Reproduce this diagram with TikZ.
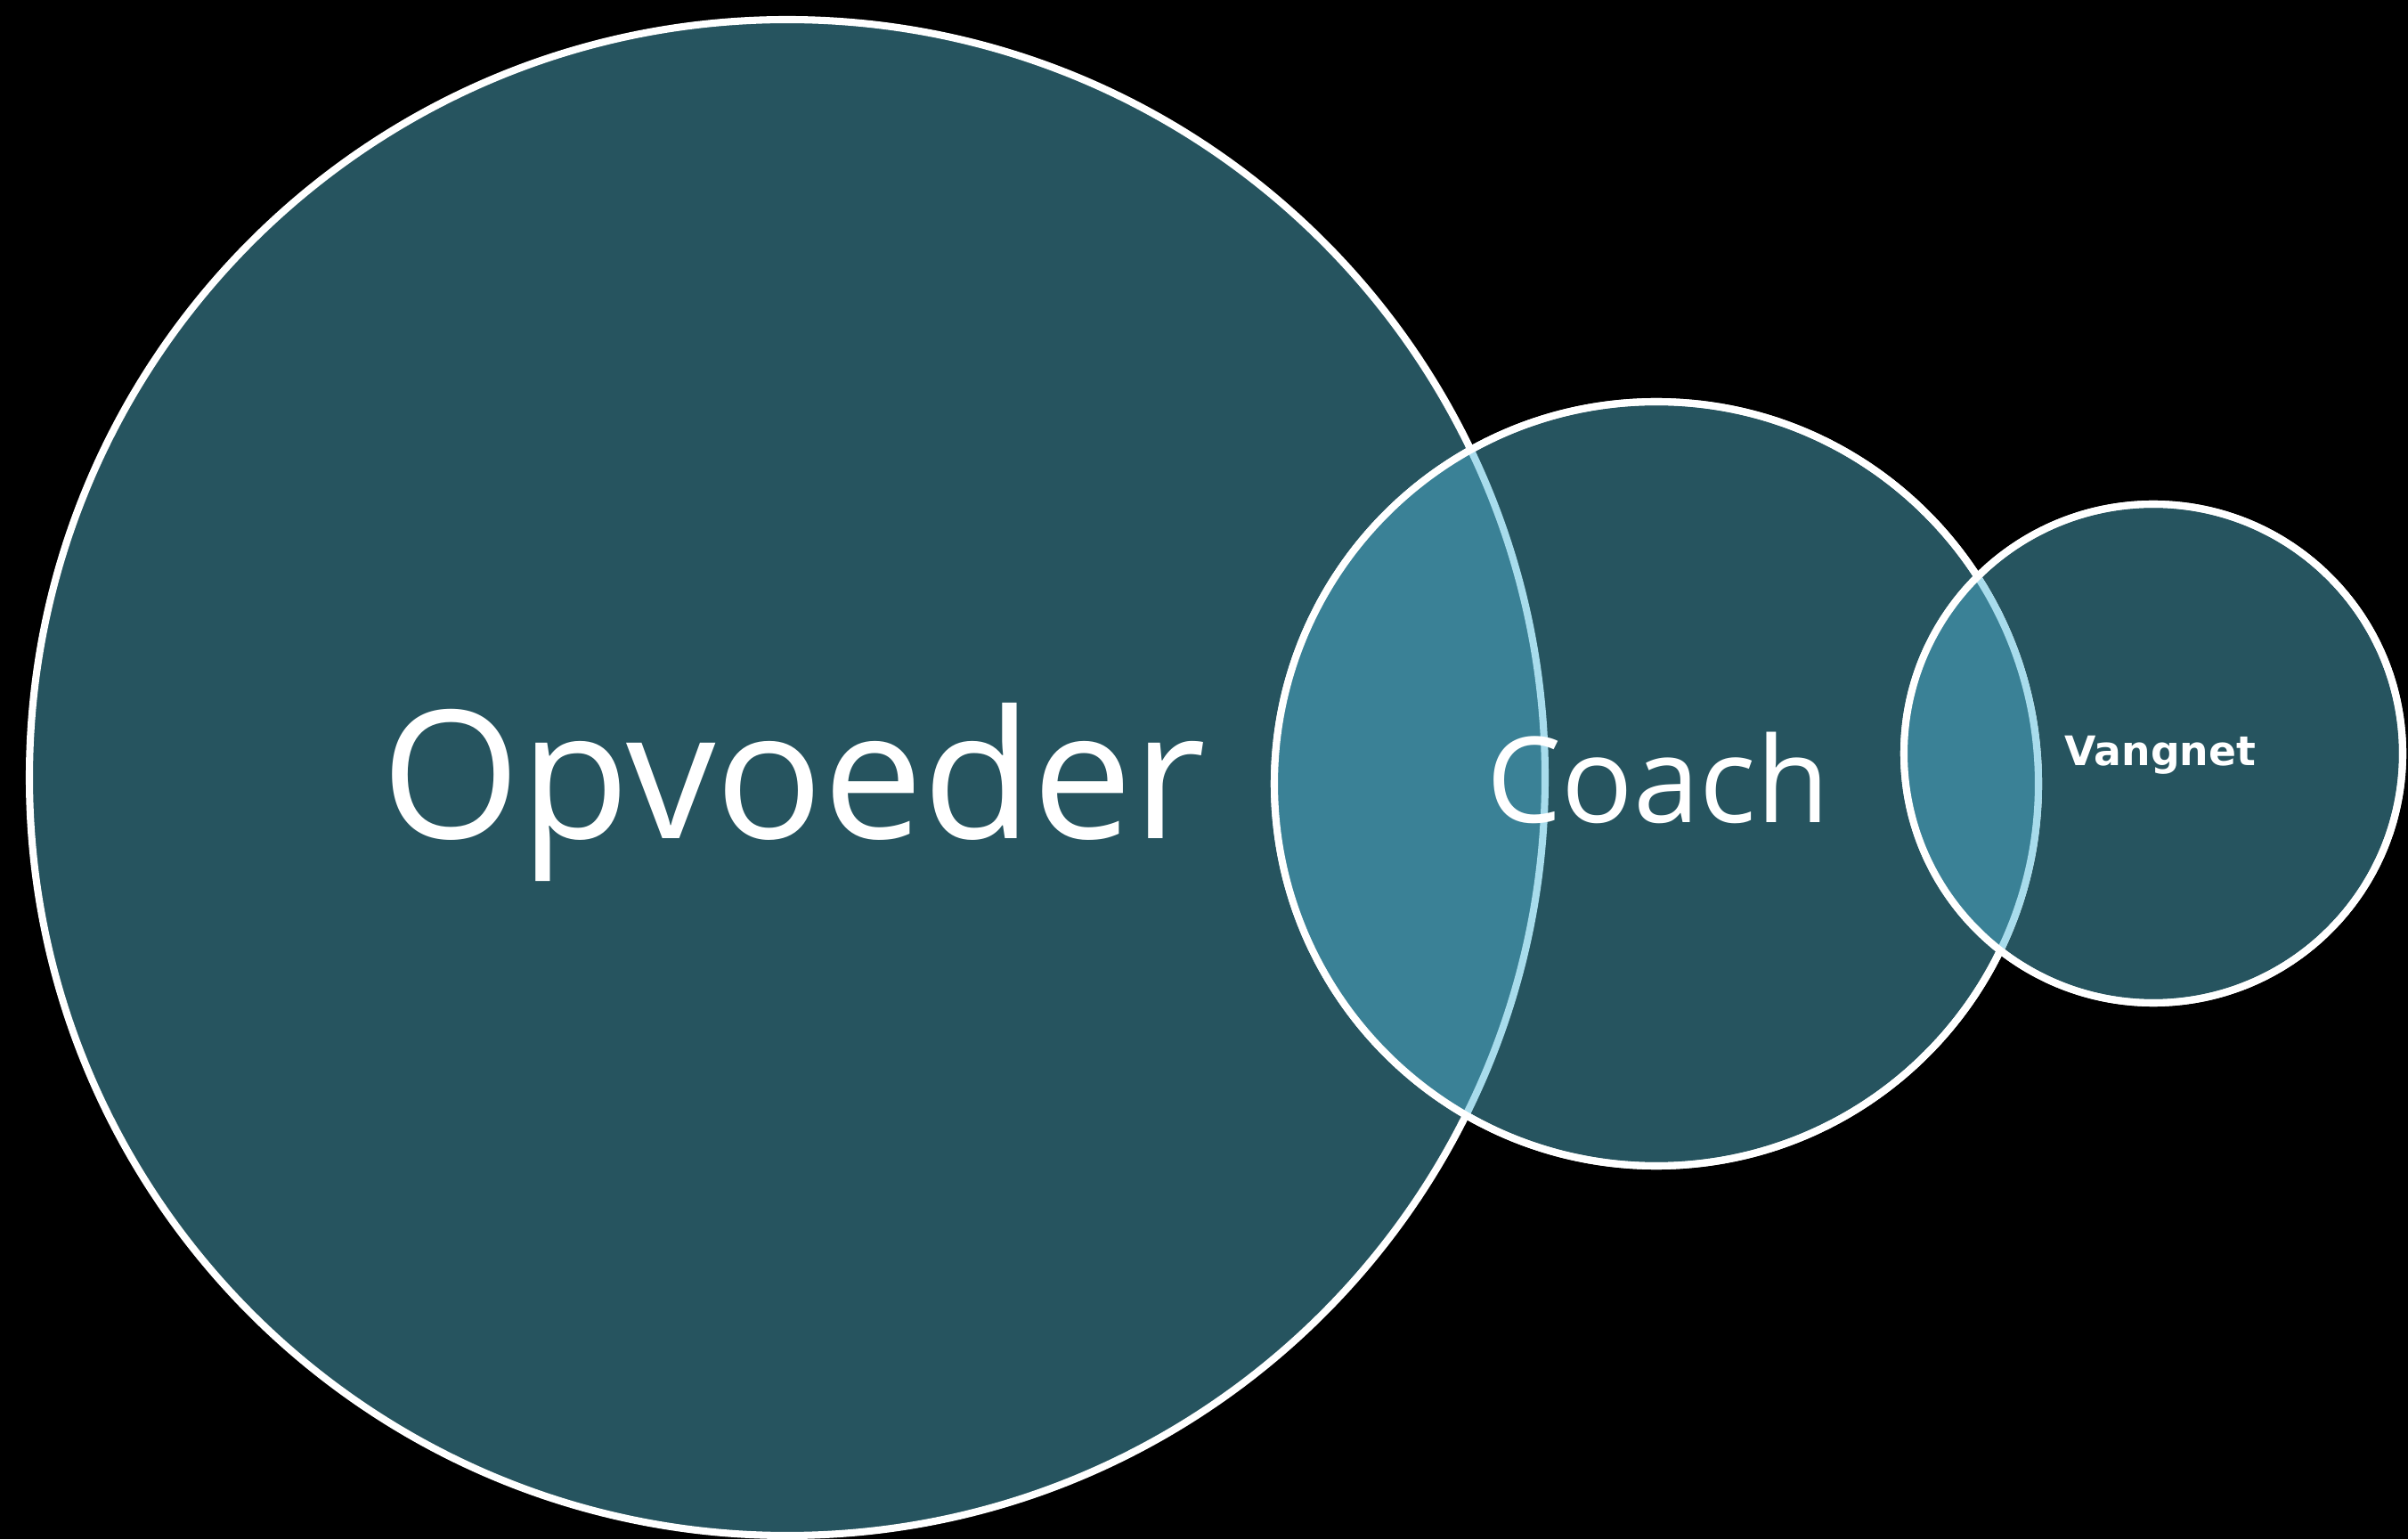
\documentclass[tikz,border=0pt]{standalone}
\usepackage{fontspec}
\setmainfont{Open Sans}
\newfontfamily\netfont{DejaVu Sans}
\usepackage{tikz}
\usetikzlibrary{positioning}

\definecolor{RingTeal}{HTML}{26545F}
\definecolor{OverlapTeal}{HTML}{3A8196}
\definecolor{SeamBlue}{HTML}{A8DCEC}

\begin{document}
\begin{tikzpicture}[
    ring/.style={circle, draw=white, fill=RingTeal, line width=2.3pt, inner sep=0pt},
    seam/.style={draw=SeamBlue, line width=2.3pt},
    label/.style={text=white, anchor=base, inner sep=0pt}
]
        % Background
        \fill[black] (0,0) rectangle (27.04,17.28);

        % Circles, back to front
        \node[ring, minimum size=17.02cm] (opvoederring) at (8.84,8.55) {};
        \node[ring, minimum size=8.58cm] (coachring) at (18.60,8.48) {};
        \node[ring, minimum size=5.60cm] (vangnetring) at (24.18,8.82) {};

        % Overlaps: lighter fill, back circle edge shown as a light seam
        \foreach \back/\front/\rb/\rf in {opvoederring/coachring/8.51/4.29, coachring/vangnetring/4.29/2.80} {
            \begin{scope}
                \clip (\front.center) circle (\rf);
                \fill[OverlapTeal] (\back.center) circle (\rb);
                \draw[seam] (\back.center) circle (\rb);
            \end{scope}
            \draw[white, line width=2.3pt] (\front.center) circle (\rf);
        }

        % Labels
        \node[label, font=\fontsize{57}{60}\selectfont] (opvoedertext) at (8.91,7.86) {Opvoeder};
        \node[label, font=\fontsize{38}{40}\selectfont] (coachtext) at (18.62,8.04) {Coach};
        \node[label, font=\netfont\bfseries\fontsize{13}{15}\selectfont] (vangnettext) at (24.26,8.68) {Vangnet};
\end{tikzpicture}
\end{document}
